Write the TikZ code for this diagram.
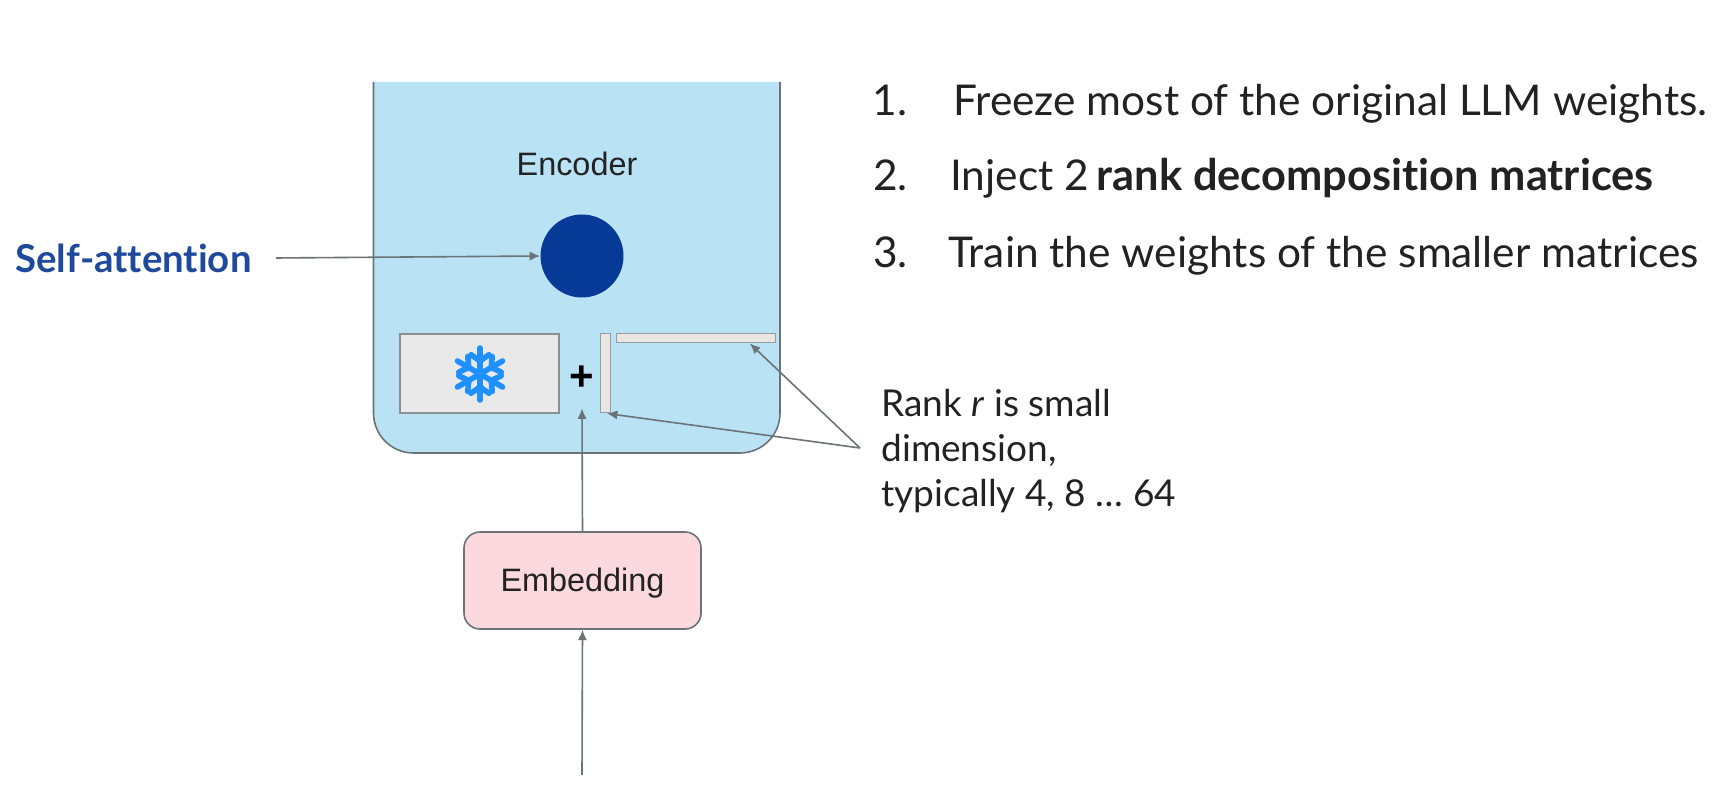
\documentclass[tikz,border=0pt]{standalone}
\usepackage{fontspec}
\setmainfont{Lato}[Ligatures=NoCommon]
\newfontfamily\arialish{Liberation Sans}
\usetikzlibrary{arrows.meta,calc}
\definecolor{edgegray}{HTML}{6B7377}
\definecolor{encfill}{HTML}{B9E3F5}
\definecolor{matfill}{HTML}{E9E9E9}
\definecolor{thinfill}{HTML}{EAE6E4}
\definecolor{embfill}{HTML}{FBD9DF}
\definecolor{navy}{HTML}{063A96}
\definecolor{labelblue}{HTML}{1F4A9C}
\definecolor{snow}{HTML}{1E90FF}
\definecolor{ink}{HTML}{222222}
\tikzset{
  conn/.style={draw=edgegray,line width=0.8pt,-{Latex[length=5.2pt,width=4.6pt]}},
  listtext/.style={anchor=base west,inner sep=0pt,text=ink,font=\fontsize{21.2}{24}\selectfont},
  ranktext/.style={anchor=base west,inner sep=0pt,text=ink,font=\fontsize{18.5}{22}\selectfont},
  boxtext/.style={text=ink,font=\arialish\fontsize{16.2}{19}\selectfont},
  thinbar/.style={draw=edgegray!70,line width=0.5pt,fill=thinfill,inner sep=0pt},
  flake/.style={draw=snow,line width=2.8pt,line cap=round}
}
\begin{document}
\begin{tikzpicture}[x=0.5pt,y=-0.5pt]
\path[use as bounding box,fill=white] (0,0) rectangle (1720,790);
% encoder body, open at the top
\path[fill=encfill,draw=edgegray,line width=0.8pt,rounded corners=20pt]
  (373.5,82) -- (373.5,453) -- (780,453) -- (780,82);
\node[boxtext,anchor=base] (enc) at (577,176) {Encoder};
\node[circle,fill=navy,minimum size=41.5pt,inner sep=0pt] (circ) at (582,256) {};
\node[anchor=base west,inner sep=0pt,text=labelblue,font=\fontsize{19.2}{22}\bfseries\selectfont] (selftxt) at (15,273) {Self-attention};
\coordinate (selfstart) at (276,258);
\draw[conn] (selfstart) -- (circ.west);
% frozen matrix
\node[draw=edgegray!80,line width=0.6pt,fill=matfill,minimum width=79.5pt,minimum height=39.5pt,inner sep=0pt] (frozen) at (479.5,373.5) {};
\begin{scope}[shift={(480,374)}]
\foreach \a in {90,150,210,270,330,30}{
  \draw[flake] (0,0) -- (\a:26);
  \draw[flake] (\a:13) -- ++(\a+55:11);
  \draw[flake] (\a:13) -- ++(\a-55:11);
}
\end{scope}
\node[font=\arialish\bfseries\fontsize{21}{24}\selectfont,text=black,minimum height=30pt,inner sep=0pt] (plus) at (582,378) {+};
\node[thinbar,minimum width=5pt,minimum height=39.5pt] (vbar) at (605,373.5) {};
\node[thinbar,minimum width=79.5pt,minimum height=4.5pt] (hbar) at (695.5,338.5) {};
% embedding
\node[draw=edgegray,line width=0.8pt,fill=embfill,rounded corners=8pt,minimum width=118.5pt,minimum height=48.5pt,inner sep=0pt] (emb) at (582.5,580.5) {};
\node[boxtext,anchor=base] (embtxt) at (582.5,592) {Embedding};
\coordinate (input) at (582,775);
\draw[conn] (input) -- (emb.south);
\draw[conn] (emb.north) -- (plus.south);
% numbered list
\node[listtext] (n1) at (872,116) {1.};
\node[listtext] (l1) at (953,116) {Freeze most of the original LLM weights.};
\node[listtext] (n2) at (873,191) {2.};
\node[listtext] (l2) at (950,191) {Inject 2 {\fontsize{21.7}{24}\selectfont\bfseries\hspace{-1.5pt}rank decomposition matrices}};
\node[listtext] (n3) at (873,268) {3.};
\node[listtext] (l3) at (948,268) {Train the weights of the smaller matrices};
% rank note
\node[ranktext] (r1) at (881,417) {Rank \textit{r} is small};
\node[ranktext] (r2) at (881,462) {dimension,};
\node[ranktext] (r3) at (881,507) {typically 4, 8 \dots\ 64};
\coordinate (apex) at (860,448);
\draw[conn] (apex) -- ($(vbar.south)+(2,0)$);
\draw[conn] (apex) -- ($(hbar.south west)!0.84!(hbar.south east)$);
\end{tikzpicture}
\end{document}
